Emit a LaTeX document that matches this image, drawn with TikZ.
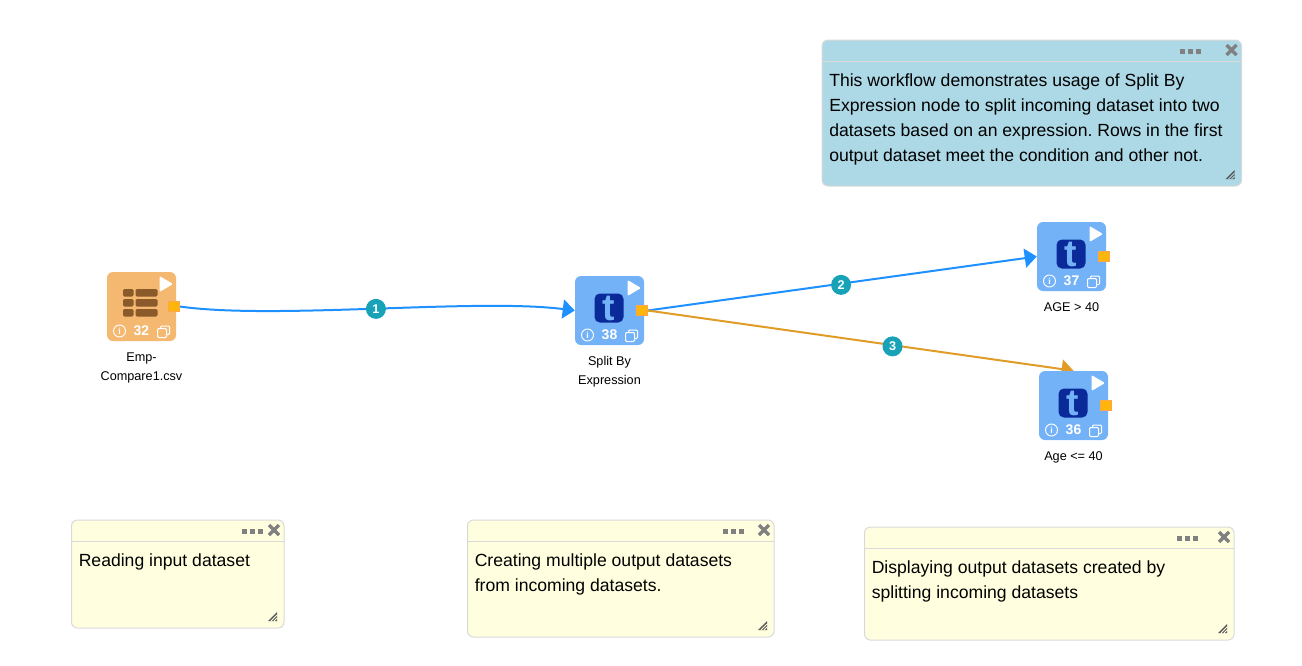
\documentclass[tikz,border=0pt]{standalone}
\usepackage{fontspec}
\setmainfont{Liberation Sans}
\usetikzlibrary{arrows.meta,positioning,backgrounds}
\definecolor{flowblue}{HTML}{1E90FF}
\definecolor{floworange}{HTML}{E09C26}
\definecolor{taskblue}{HTML}{74B2F8}
\definecolor{taskorange}{HTML}{F4B870}
\definecolor{logoblue}{HTML}{0A2A9A}
\definecolor{tablebrown}{HTML}{8A5A2B}
\definecolor{badgeteal}{HTML}{17A2B8}
\definecolor{portfill}{HTML}{FFB60A}
\definecolor{noteblue}{HTML}{ADD8E6}
\definecolor{noteyellow}{HTML}{FFFFE0}
\tikzset{
  taskbox/.style={rectangle,rounded corners=4.5pt,minimum size=51.75pt,inner sep=0pt},
  porthandle/.style={rectangle,fill=portfill,draw=orange!70!white,line width=0.6pt,minimum size=8pt,inner sep=0pt},
  tasklabel/.style={align=center,inner sep=0pt,font=\fontsize{9.5pt}{14.25pt}\selectfont},
  flowbadge/.style={circle,fill=badgeteal,text=white,minimum size=15pt,inner sep=0pt,font=\fontsize{9.5pt}{10pt}\selectfont\bfseries},
  notebox/.style={rectangle,rounded corners=4.5pt,draw=black!15,line width=0.75pt,anchor=north west,inner sep=0pt,outer sep=0pt},
  notetext/.style={anchor=north west,align=left,inner sep=0pt,font=\fontsize{13.2pt}{18.75pt}\selectfont\frenchspacing},
  flowblueline/.style={flowblue,line width=1.5pt,-{Triangle[length=9pt,width=14.25pt]}},
  floworangeline/.style={floworange,line width=1.5pt,-{Triangle[length=9pt,width=14.25pt]}}
}
\begin{document}
\begin{tikzpicture}[x=0.75pt,y=-0.75pt]
\useasboundingbox (0,0) rectangle (1302,665);
% tasks
\foreach \nm/\px/\py/\col/\num/\txt in {
  reader/141.5/306.5/taskorange/32/{Emp-\\Compare1.csv},
  split/609.5/310.5/taskblue/38/{Split By\\Expression},
  ageover/1071.5/256.5/taskblue/37/{AGE > 40},
  ageunder/1073.5/405.5/taskblue/36/{Age <= 40}}{
  \begin{scope}[shift={(\px,\py)}]
    \node[taskbox,fill=\col] (\nm) at (0,0) {};
    \node[porthandle] (\nm port) at (32.5,0) {};
    \fill[white,rounded corners=1pt] (18,-30.5)--(31.5,-22.5)--(18,-14.5)--cycle;
    \node[circle,draw=white,line width=0.7pt,minimum size=9pt,inner sep=0pt,text=white,font=\fontsize{6.5pt}{7pt}\selectfont\bfseries] (\nm info) at (-22,24.5) {i};
    \node[text=white,inner sep=0pt,font=\fontsize{10.5pt}{11pt}\selectfont\bfseries] (\nm num) at (0,24.5) {\num};
    \draw[white,line width=0.75pt,rounded corners=0.8pt] (16,22)rectangle(25,31);
    \draw[white,line width=0.75pt,rounded corners=0.8pt] (19,22)--(19,19.5)--(28,19.5)--(28,28)--(25,28);
    \node[tasklabel,below=8.3pt of \nm] (\nm label) {\txt};
  \end{scope}
}
% logos
\foreach \nm in {split,ageover,ageunder}{
  \node[rectangle,rounded corners=4pt,fill=logoblue,minimum size=21.75pt,inner sep=0pt,text=taskblue,font=\fontsize{28pt}{28pt}\selectfont\bfseries] (\nm logo) at ([shift={(-0.5,-2.5)}]\nm.center) {t};
}
% table icon
\foreach \ry in {-17.5,-7.5,2.5}{
  \fill[tablebrown,rounded corners=1pt] (123,306.5+\ry)rectangle(133.5,306.5+\ry+7.5);
  \fill[tablebrown,rounded corners=1pt] (135.5,306.5+\ry)rectangle(157.5,306.5+\ry+7.5);
}
% notes
\foreach \nm/\xa/\ya/\w/\h/\col/\dx/\txt in {
  noteintro/822/40/419.5/146/noteblue/1190/{This workflow demonstrates usage of Split By\\Expression node to split incoming dataset into two\\datasets based on an expression. Rows in the first\\output dataset meet the condition and other not.},
  notereader/71.5/520/212.5/108/noteyellow/252/{Reading input dataset},
  notesplit/467.5/520/306.5/117/noteyellow/733/{Creating multiple output datasets\\from incoming datasets.},
  noteoutput/864.5/527/369.5/113/noteyellow/1187/{Displaying output datasets created by\\splitting incoming datasets}}{
  \node[notebox,fill=\col,minimum width=\w*0.75pt,minimum height=\h*0.75pt] (\nm) at (\xa,\ya) {};
  \node[notetext] (\nm text) at (\xa+7,\ya+33.5) {\txt};
  \draw[black!15,line width=0.75pt] (\xa,\ya+21)--(\xa+\w,\ya+21);
  \foreach \k in {-8,0,8}
    \fill[gray] (\dx+\k-2.5,\ya+9)rectangle(\dx+\k+2.5,\ya+14);
  \draw[gray,line width=2.6pt] (\xa+\w-15,\ya+5)--(\xa+\w-5,\ya+15) (\xa+\w-15,\ya+15)--(\xa+\w-5,\ya+5);
  \fill[black!65] (\xa+\w-16,\ya+\h-7)--(\xa+\w-7,\ya+\h-16)--(\xa+\w-7,\ya+\h-7)--cycle;
  \draw[\col,line width=0.6pt] (\xa+\w-13,\ya+\h-7)--(\xa+\w-7,\ya+\h-13) (\xa+\w-10,\ya+\h-7)--(\xa+\w-7,\ya+\h-10);
}
% connectors
\begin{scope}[on background layer]
  \draw[flowblueline] (readerport.east) .. controls (275,320) and (476,298) .. (split.west) node[flowbadge,pos=0.5] (flowone) {1};
  \draw[flowblueline] (splitport.east) -- (ageover.west) node[flowbadge,pos=0.497,yshift=-0.9pt] (flowtwo) {2};
  \draw[floworangeline] (splitport.east) -- (ageunder.north) node[flowbadge,pos=0.575,yshift=-0.9pt] (flowthree) {3};
\end{scope}
\end{tikzpicture}
\end{document}
